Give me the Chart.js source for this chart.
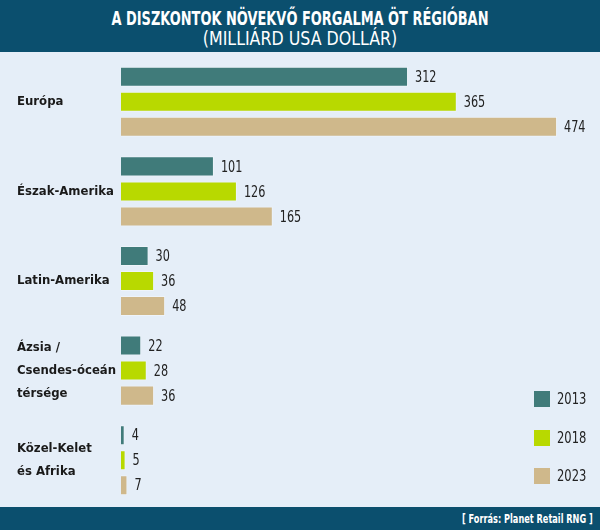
<!DOCTYPE html>
<html>
<head>
<meta charset="utf-8">
<script src="https://cdn.jsdelivr.net/npm/chart.js@4"></script>
<style>
  html, body { margin: 0; padding: 0; }
  body { width: 600px; height: 530px; position: relative; overflow: hidden;
         background: #e5eef8; font-family: "DejaVu Sans Condensed", sans-serif; }
  #head { position: absolute; left: 0; top: 0; width: 600px; height: 52px; background: #0b4f6e;
          color: #fff; text-align: center; }
  #head div { position: absolute; width: 100%; white-space: nowrap; transform-origin: 50% 50%; }
  #head .t1 { top: 6px; font-size: 20px; font-weight: bold; transform: scaleX(0.72); }
  #head .t2 { top: 26px; font-size: 20px; transform: scaleX(0.88); }
  #wrap { position: absolute; left: 0; top: 52px; width: 600px; height: 455px; }
  #foot { position: absolute; left: 0; top: 507px; width: 600px; height: 23px; background: #0b4f6e;
          color: #fff; font-size: 13px; font-weight: bold; }
  #foot span { position: absolute; right: 7px; top: 4px; white-space: nowrap;
               transform: scaleX(0.7); transform-origin: 100% 50%; }
  #legend { position: absolute; left: 534px; top: 391px; }
  #legend div { position: absolute; left: 0; width: 70px; height: 18px; font-size: 16px; color: #222; }
  #legend i { position: absolute; left: 0; top: 0; width: 16px; height: 16px; }
  #legend b { position: absolute; left: 23px; top: -2px; font-weight: normal;
              transform: scaleX(0.8); transform-origin: 0 50%; }
</style>
</head>
<body>
<div id="head">
  <div class="t1">A DISZKONTOK NÖVEKVŐ FORGALMA ÖT RÉGIÓBAN</div>
  <div class="t2">(MILLIÁRD USA DOLLÁR)</div>
</div>
<div id="wrap"><canvas id="mainChart"></canvas></div>
<div id="legend"></div>
<div id="foot"><span>[ Forrás: Planet Retail RNG ]</span></div>
<script>
// regions (y axis) and years (series)
const regions = ['Európa', 'Észak-Amerika', 'Latin-Amerika', ['Ázsia /', 'Csendes-óceán', 'térsége'], ['Közel-Kelet', 'és Afrika']];
const years = ['2013', '2018', '2023'];
const values2013 = [312, 101, 30, 22, 4];
const values2018 = [365, 126, 36, 28, 5];
const values2023 = [474, 165, 48, 36, 7];
const colors = ['#407b7a', '#b8d900', '#cfb88b'];

const fontFam = '"DejaVu Sans Condensed", sans-serif';
Chart.defaults.font.family = fontFam;

// numbers at the end of each bar, squeezed a bit to look condensed
const valueLabels = {
    id: 'valueLabels',
    afterDatasetsDraw(chart) {
        const ctx = chart.ctx;
        ctx.save();
        ctx.font = '16px ' + fontFam;
        ctx.fillStyle = '#222';
        ctx.textBaseline = 'middle';
        chart.data.datasets.forEach((ds, i) => {
            chart.getDatasetMeta(i).data.forEach((bar, j) => {
                ctx.save();
                ctx.translate(bar.x + 7, bar.y + 1);
                ctx.scale(0.78, 1);
                ctx.fillText(ds.data[j], 0, 0);
                ctx.restore();
            });
        });
        ctx.restore();
    }
};

const seriesData = [values2013, values2018, values2023];
const ctx = document.getElementById('mainChart').getContext('2d');
const mainChart = new Chart(ctx, {
    type: 'bar',
    data: {
        labels: regions,
        datasets: years.map((y, i) => ({
            label: y,
            data: seriesData[i],
            backgroundColor: colors[i],
            borderColor: 'rgba(255,255,255,0.35)',
            borderWidth: 1,
            categoryPercentage: 0.838,
            barPercentage: 0.8
        }))
    },
    options: {
        indexAxis: 'y',
        responsive: true,
        maintainAspectRatio: false,
        animation: false,
        layout: { padding: { left: 17, right: 19, top: 5, bottom: 2 } },
        plugins: {
            legend: { display: false },
            tooltip: { enabled: false }
        },
        scales: {
            x: { display: false, min: 0, max: 500 },
            y: {
                grid: { display: false },
                border: { display: false },
                afterFit(scale) {
                    scale.width = 104;
                    scale.paddingTop = 0;
                    scale.paddingBottom = 0;
                },
                ticks: {
                    crossAlign: 'far',
                    color: '#1a1a1a',
                    font: { size: 13, weight: 'bold', lineHeight: 1.75 }
                }
            }
        }
    },
    plugins: [valueLabels]
});

// legend boxes in the lower right
const legendBox = document.getElementById('legend');
years.forEach((y, i) => {
    const row = document.createElement('div');
    row.style.top = (i * 38.5) + 'px';
    row.innerHTML = '<i style="background:' + colors[i] + '"></i><b>' + y + '</b>';
    legendBox.appendChild(row);
});
</script>
</body>
</html>
